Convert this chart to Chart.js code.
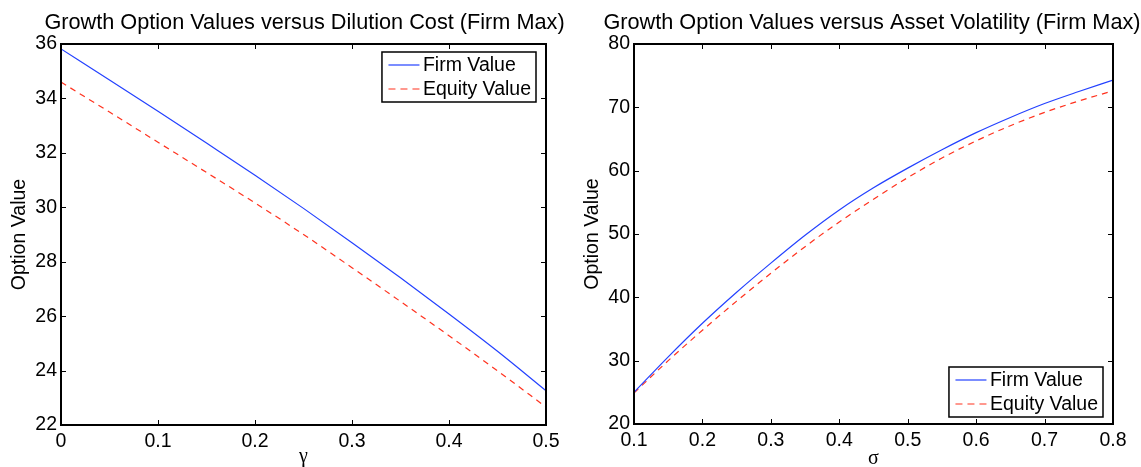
<!DOCTYPE html>
<html>
<head>
<meta charset="utf-8">
<script src="https://cdn.jsdelivr.net/npm/chart.js@4.4.1/dist/chart.umd.min.js"></script>
<style>
  html, body { margin: 0; padding: 0; background: #fff; overflow: hidden; }
  canvas { position: absolute; top: 0; }
  #left { left: 0; }
  #right { left: 570px; }
</style>
</head>
<body>
<canvas id="left" width="570" height="467"></canvas>
<canvas id="right" width="571" height="467"></canvas>
<script>
// left panel: option values vs dilution cost gamma
const gamma = [0, 0.05, 0.1, 0.15, 0.2, 0.25, 0.3, 0.35, 0.4, 0.45, 0.5];
const firmByGamma = [35.82, 34.68, 33.53, 32.36, 31.18, 29.96, 28.70, 27.41, 26.08, 24.71, 23.26];
const equityByGamma = [34.60, 33.50, 32.39, 31.28, 30.16, 29.00, 27.78, 26.54, 25.28, 23.99, 22.66];
const gammaTicks = [0, 0.1, 0.2, 0.3, 0.4, 0.5];
const valueTicksLeft = [22, 24, 26, 28, 30, 32, 34, 36];

// right panel: option values vs asset volatility sigma
const sigma = [0.1, 0.15, 0.2, 0.25, 0.3, 0.35, 0.4, 0.45, 0.5, 0.55, 0.6, 0.65, 0.7, 0.75, 0.8];
const firmBySigma = [25.0, 30.6, 35.9, 40.8, 45.4, 49.8, 53.8, 57.3, 60.4, 63.3, 66.0, 68.4, 70.6, 72.5, 74.3];
const equityBySigma = [24.9, 30.0, 34.8, 39.4, 43.8, 48.0, 51.9, 55.5, 58.9, 62.0, 64.7, 67.1, 69.2, 71.0, 72.6];
const sigmaTicks = [0.1, 0.2, 0.3, 0.4, 0.5, 0.6, 0.7, 0.8];
const valueTicksRight = [20, 30, 40, 50, 60, 70, 80];

const SANS = '"Liberation Sans", Arial, Helvetica, sans-serif';
const BLUE = 'rgb(35,65,255)';
const RED = 'rgb(255,50,30)';

// box around the plot plus matlab style inward ticks on all sides
const framePlugin = {
  id: 'frame',
  afterDatasetsDraw(chart) {
    const { ctx, chartArea: a, scales } = chart;
    ctx.save();
    ctx.strokeStyle = '#000';
    ctx.lineWidth = 1;
    ctx.beginPath();
    scales.x.ticks.forEach((t, i) => {
      const px = Math.round(scales.x.getPixelForTick(i)) + 0.5;
      ctx.moveTo(px, a.bottom); ctx.lineTo(px, a.bottom - 5);
      ctx.moveTo(px, a.top); ctx.lineTo(px, a.top + 5);
    });
    scales.y.ticks.forEach((t, i) => {
      const py = Math.round(scales.y.getPixelForTick(i)) + 0.5;
      ctx.moveTo(a.left, py); ctx.lineTo(a.left + 5, py);
      ctx.moveTo(a.right, py); ctx.lineTo(a.right - 5, py);
    });
    ctx.stroke();
    ctx.lineWidth = 2;
    ctx.strokeRect(a.left, a.top, a.right - a.left, a.bottom - a.top);
    ctx.restore();
  }
};

// title drawn over the plot centre (the built-in one squeezes text to the box width)
const titlePlugin = {
  id: 'plotTitle',
  afterDraw(chart, args, opts) {
    const { ctx, chartArea: a } = chart;
    ctx.save();
    ctx.font = '21.7px ' + SANS;
    ctx.fillStyle = '#000';
    ctx.textAlign = 'center';
    ctx.textBaseline = 'alphabetic';
    ctx.fillText(opts.text, (a.left + a.right) / 2 + (opts.dx || 0), opts.y);
    ctx.restore();
  }
};

// framed legend inside the plot
const boxLegend = {
  id: 'boxLegend',
  afterDraw(chart, args, opts) {
    const { ctx, chartArea: a } = chart;
    const sets = chart.data.datasets;
    ctx.save();
    ctx.font = '19.5px ' + SANS;
    const textW = Math.max(...sets.map(d => ctx.measureText(d.label).width));
    const w = 6.5 + 31 + 3.5 + textW + 5;
    const h = 50;
    const x = a.right - opts.right - w;
    const y = opts.top != null ? a.top + opts.top : a.bottom - opts.bottom - h;
    ctx.fillStyle = '#fff';
    ctx.fillRect(x, y, w, h);
    ctx.lineWidth = 1.5;
    ctx.strokeStyle = '#000';
    ctx.strokeRect(x, y, w, h);
    sets.forEach((d, i) => {
      const cy = y + 13 + i * 24;
      ctx.beginPath();
      ctx.strokeStyle = d.borderColor;
      ctx.lineWidth = d.borderWidth;
      ctx.setLineDash(d.borderDash ? [7, 5] : []);
      ctx.moveTo(x + 6.5, cy);
      ctx.lineTo(x + 37.5, cy);
      ctx.stroke();
      ctx.setLineDash([]);
      ctx.fillStyle = '#000';
      ctx.textAlign = 'left';
      ctx.textBaseline = 'middle';
      ctx.fillText(d.label, x + 41, cy + 1);
    });
    ctx.restore();
  }
};

function makeChart(id, c) {
  const pts = (xs, ys) => xs.map((v, i) => ({ x: v, y: ys[i] }));
  return new Chart(document.getElementById(id), {
    type: 'line',
    data: {
      datasets: [
        { label: 'Firm Value', data: pts(c.x, c.firm), borderColor: BLUE, borderWidth: 1.2,
          pointRadius: 0, cubicInterpolationMode: 'monotone' },
        { label: 'Equity Value', data: pts(c.x, c.equity), borderColor: RED, borderWidth: 1.2,
          borderDash: [6, 5], pointRadius: 0, cubicInterpolationMode: 'monotone' }
      ]
    },
    options: {
      responsive: false,
      animation: false,
      devicePixelRatio: 1,
      layout: { padding: { left: 0, right: c.padRight, top: 44, bottom: 0 } },
      plugins: {
        legend: { display: false },
        tooltip: { enabled: false },
        title: { display: false },
        plotTitle: { text: c.title, y: 28.5, dx: c.titleDx },
        boxLegend: c.legend
      },
      scales: {
        x: {
          type: 'linear',
          min: c.x[0],
          max: c.x[c.x.length - 1],
          afterBuildTicks: s => { s.ticks = c.xTicks.map(v => ({ value: v })); },
          afterFit: s => { s.height = c.xHeight; },
          ticks: { font: { family: SANS, size: 19.5 }, color: '#000', padding: 4.5,
                   maxRotation: 0, autoSkip: false, callback: v => String(v) },
          grid: { display: false, drawTicks: false },
          border: { display: false },
          title: { display: true, text: c.xTitle, color: '#000',
                   font: { family: '"Liberation Serif", "Times New Roman", serif', size: 20 },
                   padding: { top: 0, bottom: c.xTitlePad } }
        },
        y: {
          min: c.yTicks[0],
          max: c.yTicks[c.yTicks.length - 1],
          afterBuildTicks: s => { s.ticks = c.yTicks.map(v => ({ value: v })); },
          afterFit: s => { s.width = c.yWidth; },
          ticks: { font: { family: SANS, size: 19.5 }, color: '#000', padding: 4 },
          grid: { display: false, drawTicks: false },
          border: { display: false },
          title: { display: true, text: 'Option Value', color: '#000',
                   font: { family: SANS, size: 19.5 }, padding: { top: c.yTitlePad, bottom: 0 } }
        }
      }
    },
    plugins: [framePlugin, titlePlugin, boxLegend]
  });
}

makeChart('left', {
  title: 'Growth Option Values versus Dilution Cost (Firm Max)', titleDx: 1,
  x: gamma, firm: firmByGamma, equity: equityByGamma,
  xTicks: gammaTicks, yTicks: valueTicksLeft, xTitle: 'γ',
  padRight: 24, xHeight: 42, yWidth: 61, xTitlePad: -2, yTitlePad: 8.3,
  legend: { right: 10, top: 8 }
});

makeChart('right', {
  title: 'Growth Option Values versus Asset Volatility (Firm Max)', titleDx: -1.5,
  x: sigma, firm: firmBySigma, equity: equityBySigma,
  xTicks: sigmaTicks, yTicks: valueTicksRight, xTitle: 'σ',
  padRight: 28, xHeight: 43, yWidth: 64, xTitlePad: -4, yTitlePad: 11.3,
  legend: { right: 10, bottom: 7 }
});
</script>
</body>
</html>
